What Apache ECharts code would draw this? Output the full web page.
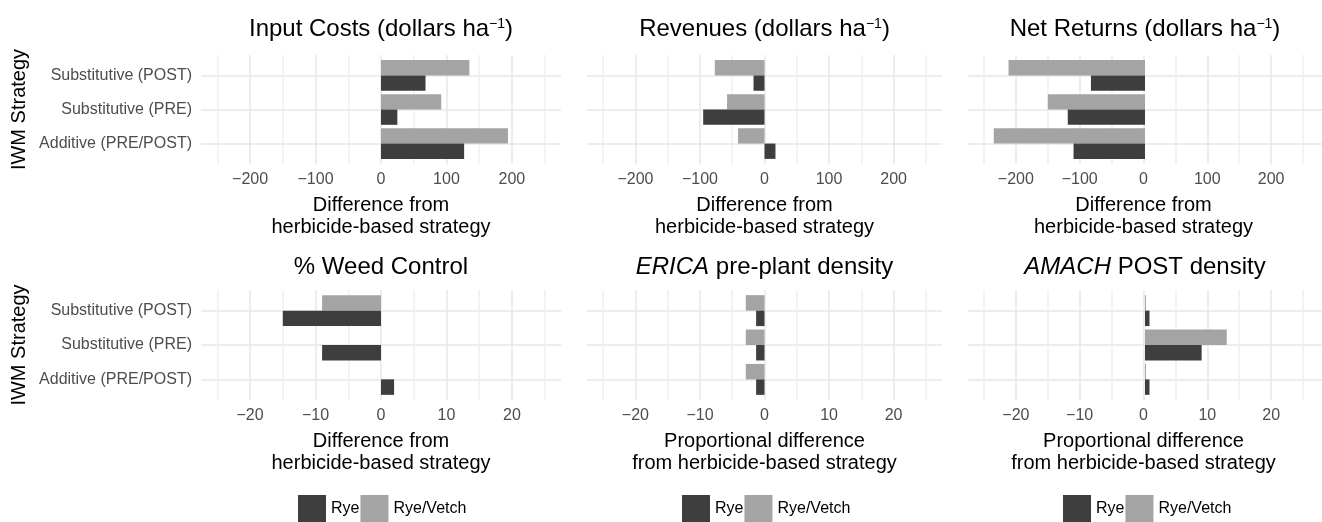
<!DOCTYPE html>
<html>
<head>
<meta charset="utf-8">
<title>IWM strategy vs herbicide-based strategy</title>
<script src="https://cdn.jsdelivr.net/npm/echarts@6/dist/echarts.min.js"></script>
<style>
  html, body { margin: 0; padding: 0; background: #fff; }
  #chart { width: 1322px; height: 522px; }
</style>
</head>
<body>
<div id="chart"></div>
<script>
// strategies from bottom to top of each panel
const strategies = ['Additive (PRE/POST)', 'Substitutive (PRE)', 'Substitutive (POST)']
const legendNames = ['Rye', 'Rye/Vetch']

// differences from the herbicide-based strategy (same order as strategies)
const inputCostsRye = [127, 25, 68]
const inputCostsVetch = [194, 92, 135]
const revenuesRye = [17, -95, -17]
const revenuesVetch = [-41, -58, -77]
const netReturnsRye = [-111, -120, -84]
const netReturnsVetch = [-235, -151, -212]
const weedControlRye = [2, -9, -15]
const weedControlVetch = [0, 0, -9]
const ericaRye = [-1.3, -1.3, -1.3]
const ericaVetch = [-2.9, -2.9, -2.9]
const amachRye = [0.7, 8.8, 0.7]
const amachVetch = [0.15, 12.7, 0.15]

const diffName = 'Difference from\nherbicide-based strategy'
const propName = 'Proportional difference\nfrom herbicide-based strategy'

const panels = [
  { title: 'Input Costs (dollars ha{sup|−1})', rye: inputCostsRye, vetch: inputCostsVetch, col: 0, row: 0, step: 100, name: diffName },
  { title: 'Revenues (dollars ha{sup|−1})', rye: revenuesRye, vetch: revenuesVetch, col: 1, row: 0, step: 100, name: diffName },
  { title: 'Net Returns (dollars ha{sup|−1})', rye: netReturnsRye, vetch: netReturnsVetch, col: 2, row: 0, step: 100, name: diffName },
  { title: '% Weed Control', rye: weedControlRye, vetch: weedControlVetch, col: 0, row: 1, step: 10, name: diffName },
  { title: '{it|ERICA} pre-plant density', rye: ericaRye, vetch: ericaVetch, col: 1, row: 1, step: 10, name: propName },
  { title: '{it|AMACH} POST density', rye: amachRye, vetch: amachVetch, col: 2, row: 1, step: 10, name: propName }
]

const colLeft = [201, 587, 968]
const colWidth = [360, 355, 354]
const rowTop = [55, 290]
const rowHeight = [109, 110]
const titleY = [29, 267]
const legendLeft = [298, 682, 1063]

const darkFill = '#3e3e3e'
const lightFill = '#a4a4a4'
const gridMajor = '#e7e7e7'
const gridMinor = '#efefef'
const none = 'rgba(0,0,0,0)'
const font = 'Liberation Sans, Arial, sans-serif'

const chart = echarts.init(document.getElementById('chart'))

const grid = []
const xAxis = []
const yAxis = []
const series = []
const title = []

panels.forEach((p, i) => {
  const left = colLeft[p.col]
  const width = colWidth[p.col]
  const top = rowTop[p.row]
  const height = rowHeight[p.row]
  const unit = height / 3.2 // ggplot discrete scale: 0.6 padding each side
  const lim = p.step * 2.75
  const q = p.step / 4

  // outer panel: x grid lines, tick labels, axis title
  grid.push({ left: left, top: top, width: width, height: height })
  // inner band area for bars
  grid.push({ left: left, top: top + unit * 0.1, width: width, height: unit * 3 })

  xAxis.push({
    gridIndex: 2 * i,
    type: 'value',
    min: -lim,
    max: lim,
    interval: q,
    axisLine: { show: false },
    axisTick: { show: false },
    axisLabel: {
      interval: 0,
      margin: 8,
      fontSize: 16,
      color: '#4d4d4d',
      fontFamily: font,
      formatter: function (v) {
        const k = v / p.step
        if (Math.abs(k - Math.round(k)) > 1e-6) return ''
        return String(Math.round(v)).replace('-', '−')
      }
    },
    splitLine: { show: true, lineStyle: { width: 1.5, color: [none, gridMinor, none, gridMajor] } },
    name: p.name,
    nameLocation: 'middle',
    nameGap: 30,
    nameTextStyle: { fontSize: 20, lineHeight: 22, color: '#000', fontFamily: font }
  })
  xAxis.push({ gridIndex: 2 * i + 1, type: 'value', min: -lim, max: lim, show: false })

  yAxis.push({ gridIndex: 2 * i, type: 'value', show: false })
  yAxis.push({
    gridIndex: 2 * i + 1,
    type: 'category',
    data: strategies,
    axisLine: { show: false },
    axisTick: { show: false },
    axisLabel: { show: p.col === 0, margin: 9, fontSize: 16, color: '#4d4d4d', fontFamily: font },
    splitLine: { show: true, interval: 0, alignWithLabel: true, lineStyle: { color: gridMajor, width: 1.5 } },
    name: p.col === 0 ? 'IWM Strategy' : '',
    nameLocation: 'middle',
    nameRotate: 90,
    nameGap: 172,
    nameTextStyle: { fontSize: 20, color: '#000', fontFamily: font }
  })

  series.push({
    name: 'Rye/Vetch',
    type: 'bar',
    xAxisIndex: 2 * i + 1,
    yAxisIndex: 2 * i + 1,
    data: p.vetch,
    barGap: '0%',
    barCategoryGap: '10%',
    itemStyle: { color: lightFill }
  })
  series.push({
    name: 'Rye',
    type: 'bar',
    xAxisIndex: 2 * i + 1,
    yAxisIndex: 2 * i + 1,
    data: p.rye,
    barGap: '0%',
    barCategoryGap: '10%',
    itemStyle: { color: darkFill }
  })

  title.push({
    text: p.title,
    left: left + width / 2,
    top: titleY[p.row],
    padding: 0,
    textAlign: 'center',
    textVerticalAlign: 'middle',
    textStyle: {
      fontSize: 24,
      fontWeight: 'normal',
      color: '#000',
      fontFamily: font,
      rich: {
        sup: { fontSize: 14, verticalAlign: 'top', color: '#000', fontFamily: font },
        it: { fontSize: 24, fontStyle: 'italic', color: '#000', fontFamily: font }
      }
    }
  })
})

const legend = legendLeft.map(x => ({
  data: legendNames,
  left: x,
  top: 495,
  padding: 0,
  itemWidth: 28,
  itemHeight: 28,
  itemGap: 1,
  icon: 'rect',
  selectedMode: false,
  textStyle: { fontSize: 16, color: '#000', fontFamily: font }
}))

chart.setOption({
  animation: false,
  textStyle: { fontFamily: font },
  title: title,
  legend: legend,
  grid: grid,
  xAxis: xAxis,
  yAxis: yAxis,
  series: series
})
</script>
</body>
</html>
